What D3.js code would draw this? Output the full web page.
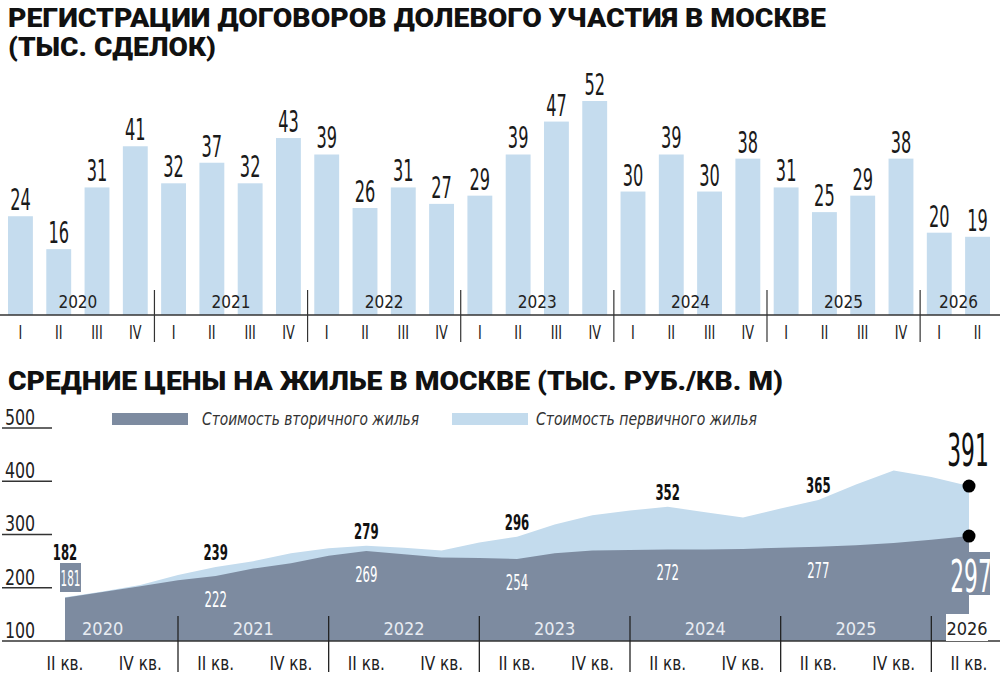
<!DOCTYPE html>
<html lang="ru">
<head>
<meta charset="UTF-8" />
<script src="https://d3js.org/d3.v7.min.js"></script>
<style>
  body { margin: 0; background: #fff; }
  svg { display: block; }
  .narrow { font-family: "Liberation Sans Narrow", "DejaVu Sans Condensed", sans-serif; }
  .title { font-family: Roboto, "DejaVu Sans", sans-serif; font-weight: 900; font-size: 25px; fill: #111; }
</style>
</head>
<body>
<svg id="chart" width="1000" height="674"></svg>
<script>
// ---- data: registrations (thousand deals) ----
const barQuarters = ['I','II','III','IV','I','II','III','IV','I','II','III','IV','I','II','III','IV','I','II','III','IV','I','II','III','IV','I','II'];
const barYears = ['2020','2020','2020','2020','2021','2021','2021','2021','2022','2022','2022','2022','2023','2023','2023','2023','2024','2024','2024','2024','2025','2025','2025','2025','2026','2026'];
const deals = [24,16,31,41,32,37,32,43,39,26,31,27,29,39,47,52,30,39,30,38,31,25,29,38,20,19];

// ---- data: prices (thousand rub / sq m), 2020 Q2 .. 2026 Q2 ----
const priceQuarters = ['II','III','IV','I','II','III','IV','I','II','III','IV','I','II','III','IV','I','II','III','IV','I','II','III','IV','I','II'];
const priceYears = ['2020','2020','2020','2021','2021','2021','2021','2022','2022','2022','2022','2023','2023','2023','2023','2024','2024','2024','2024','2025','2025','2025','2025','2026','2026'];
const primary = [182,193,205,224,239,250,265,274,279,275,270,285,296,319,336,345,352,342,332,349,365,394,420,408,391];
const secondary = [181,192,203,214,222,236,246,260,269,263,257,256,254,265,270,271,272,272,273,275,277,280,284,290,297];
const yTicks = [500,400,300,200,100];
const primaryLabelIdx = [0,4,8,12,16,20];
const secondaryLabelIdx = [4,8,12,16,20];

const svg = d3.select('#chart');
const barColor = '#c5dcee', dark = '#7d8ba0', light = '#c3dbed';

// squeeze text horizontally around its anchor
const cond = (sel, cx, k) => sel.attr('transform', `translate(${cx},0) scale(${k},1) translate(${-cx},0)`);

// titles
svg.append('text').attr('class','title').attr('x',8).attr('y',27)
  .attr('textLength',818).attr('lengthAdjust','spacingAndGlyphs')
  .text('РЕГИСТРАЦИИ ДОГОВОРОВ ДОЛЕВОГО УЧАСТИЯ В МОСКВЕ');
svg.append('text').attr('class','title').attr('x',8).attr('y',56)
  .attr('textLength',208).attr('lengthAdjust','spacingAndGlyphs')
  .text('(ТЫС. СДЕЛОК)');

// ---- bar chart ----
const base1 = 315;
const xb = d3.scaleBand().domain(d3.range(deals.length)).range([8, 990]).paddingInner(0.35).paddingOuter(0);
const yb = d3.scaleLinear().domain([0, 52]).range([base1, 101]);

svg.selectAll('rect.bar').data(deals).join('rect').attr('class','bar')
  .attr('x',(d,i)=>xb(i)).attr('width',xb.bandwidth())
  .attr('y',d=>yb(d)).attr('height',d=>base1-yb(d)).attr('fill',barColor);

svg.selectAll('text.bval').data(deals).join('text').attr('class','bval narrow')
  .attr('x',(d,i)=>xb(i)+xb.bandwidth()/2).attr('y',d=>yb(d)-6)
  .attr('text-anchor','middle').attr('font-size',30).attr('fill','#1a1a1a')
  .attr('transform',(d,i)=>{const cx=xb(i)+xb.bandwidth()/2;return `translate(${cx},0) scale(0.6,1) translate(${-cx},0)`;})
  .text(d=>d);

svg.append('line').attr('x1',0).attr('x2',1000).attr('y1',base1).attr('y2',base1)
  .attr('stroke','#333').attr('stroke-width',1.5);

svg.selectAll('text.bq').data(barQuarters).join('text').attr('class','bq narrow')
  .attr('x',(d,i)=>xb(i)+xb.bandwidth()/2).attr('y',339)
  .attr('text-anchor','middle').attr('font-size',19).attr('fill','#222')
  .attr('transform',(d,i)=>{const cx=xb(i)+xb.bandwidth()/2;return `translate(${cx},0) scale(0.75,1) translate(${-cx},0)`;})
  .text(d=>d);

const yearsB = Array.from(new Set(barYears));
const step = xb.step();
yearsB.forEach(y=>{
  const idx = barYears.map((v,i)=>v===y?i:-1).filter(i=>i>=0);
  const x0 = xb(idx[0]), x1 = xb(idx[idx.length-1])+xb.bandwidth();
  svg.append('text').attr('class','narrow').attr('x',(x0+x1)/2).attr('y',308)
    .attr('text-anchor','middle').attr('font-size',17).attr('fill','#222').text(y);
  if (idx[0] > 0) {
    const sx = x0 - (step - xb.bandwidth())/2;
    svg.append('line').attr('x1',sx).attr('x2',sx).attr('y1',290).attr('y2',342)
      .attr('stroke','#333').attr('stroke-width',1.2);
  }
});

// ---- price chart ----
svg.append('text').attr('class','title').attr('x',8).attr('y',390)
  .attr('textLength',775).attr('lengthAdjust','spacingAndGlyphs')
  .text('СРЕДНИЕ ЦЕНЫ НА ЖИЛЬЕ В МОСКВЕ (ТЫС. РУБ./КВ. М)');

const xp = d3.scaleLinear().domain([0, primary.length-1]).range([65, 969]);
const yp = d3.scaleLinear().domain([100, 500]).range([641, 428]);

const areaP = d3.area().x((d,i)=>xp(i)).y0(yp(100)).y1(d=>yp(d));
svg.append('path').datum(primary).attr('d',areaP).attr('fill',light);
svg.append('path').datum(secondary).attr('d',areaP).attr('fill',dark);

// y ticks
yTicks.forEach(t=>{
  cond(svg.append('text').attr('class','narrow').attr('x',5).attr('y',yp(t)-3)
    .attr('font-size',22).attr('fill','#222').text(t), 5, 0.8);
  svg.append('line').attr('x1',2).attr('x2',t===100?1000:52).attr('y1',yp(t)).attr('y2',yp(t))
    .attr('stroke','#333').attr('stroke-width',1.3);
});

// legend
svg.append('rect').attr('x',112).attr('y',413).attr('width',76).attr('height',12).attr('fill',dark);
svg.append('text').attr('class','narrow').attr('x',202).attr('y',425).attr('font-size',17)
  .attr('textLength',217).attr('lengthAdjust','spacingAndGlyphs')
  .attr('font-style','italic').attr('fill','#333').text('Стоимость вторичного жилья');
svg.append('rect').attr('x',452).attr('y',413).attr('width',76).attr('height',12).attr('fill',light);
svg.append('text').attr('class','narrow').attr('x',536).attr('y',425).attr('font-size',17)
  .attr('textLength',221).attr('lengthAdjust','spacingAndGlyphs')
  .attr('font-style','italic').attr('fill','#333').text('Стоимость первичного жилья');

// year labels & separators
const yearsP = Array.from(new Set(priceYears));
yearsP.forEach(y=>{
  const idx = priceYears.map((v,i)=>v===y?i:-1).filter(i=>i>=0);
  const first = priceQuarters[idx[0]]==='I' ? idx[0] : idx[0]-1;
  const cx = (xp(first)+xp(first+4))/2;
  if (y==='2026') {
    svg.append('rect').attr('x',946).attr('y',614).attr('width',42).attr('height',27).attr('fill','#fff');
  }
  svg.append('text').attr('class','narrow').attr('x',y==='2026'?967:cx).attr('y',635)
    .attr('text-anchor','middle').attr('font-size',18)
    .attr('fill',y==='2026'?'#222':'#e8ecf2').text(y);
  if (priceQuarters[idx[0]]==='I') {
    svg.append('line').attr('x1',xp(idx[0])).attr('x2',xp(idx[0])).attr('y1',616).attr('y2',672)
      .attr('stroke','#222').attr('stroke-width',1.3);
  }
});

// quarter labels (II and IV only)
priceQuarters.forEach((q,i)=>{
  if (q==='II' || q==='IV') {
    cond(svg.append('text').attr('class','narrow').attr('x',xp(i)).attr('y',670)
      .attr('text-anchor','middle').attr('font-size',20).attr('fill','#222').text(q+' кв.'), xp(i), 0.85);
  }
});

// value labels
primaryLabelIdx.forEach(i=>{
  const yy = i===0 ? 560 : yp(primary[i]) - 7;
  cond(svg.append('text').attr('class','narrow').attr('x',xp(i)).attr('y',yy)
    .attr('text-anchor','middle').attr('font-size',21).attr('font-weight','bold').attr('fill','#111').text(primary[i]), xp(i), 0.62);
});
secondaryLabelIdx.forEach(i=>{
  cond(svg.append('text').attr('class','narrow').attr('x',xp(i)).attr('y',yp(secondary[i])+31)
    .attr('text-anchor','middle').attr('font-size',21).attr('fill','#fff').text(secondary[i]), xp(i), 0.62);
});
// first secondary in a box
svg.append('rect').attr('x',60).attr('y',563).attr('width',21).attr('height',29).attr('fill',dark);
cond(svg.append('text').attr('class','narrow').attr('x',70.5).attr('y',586).attr('text-anchor','middle')
  .attr('font-size',21).attr('fill','#fff').text(secondary[0]), 70.5, 0.55);

// last values
const li = primary.length-1;
svg.append('rect').attr('x',952).attr('y',552).attr('width',38).attr('height',43).attr('fill',dark);
cond(svg.append('text').attr('class','narrow').attr('x',971).attr('y',592).attr('text-anchor','middle')
  .attr('font-size',44).attr('fill','#fff').text(secondary[li]), 971, 0.55);
cond(svg.append('text').attr('class','narrow').attr('x',968).attr('y',466).attr('text-anchor','middle')
  .attr('font-size',44).attr('fill','#111').text(primary[li]), 968, 0.55);
[primary[li], secondary[li]].forEach(v=>{
  svg.append('circle').attr('cx',xp(li)).attr('cy',yp(v)).attr('r',6.5).attr('fill','#000');
});
</script>
</body>
</html>
